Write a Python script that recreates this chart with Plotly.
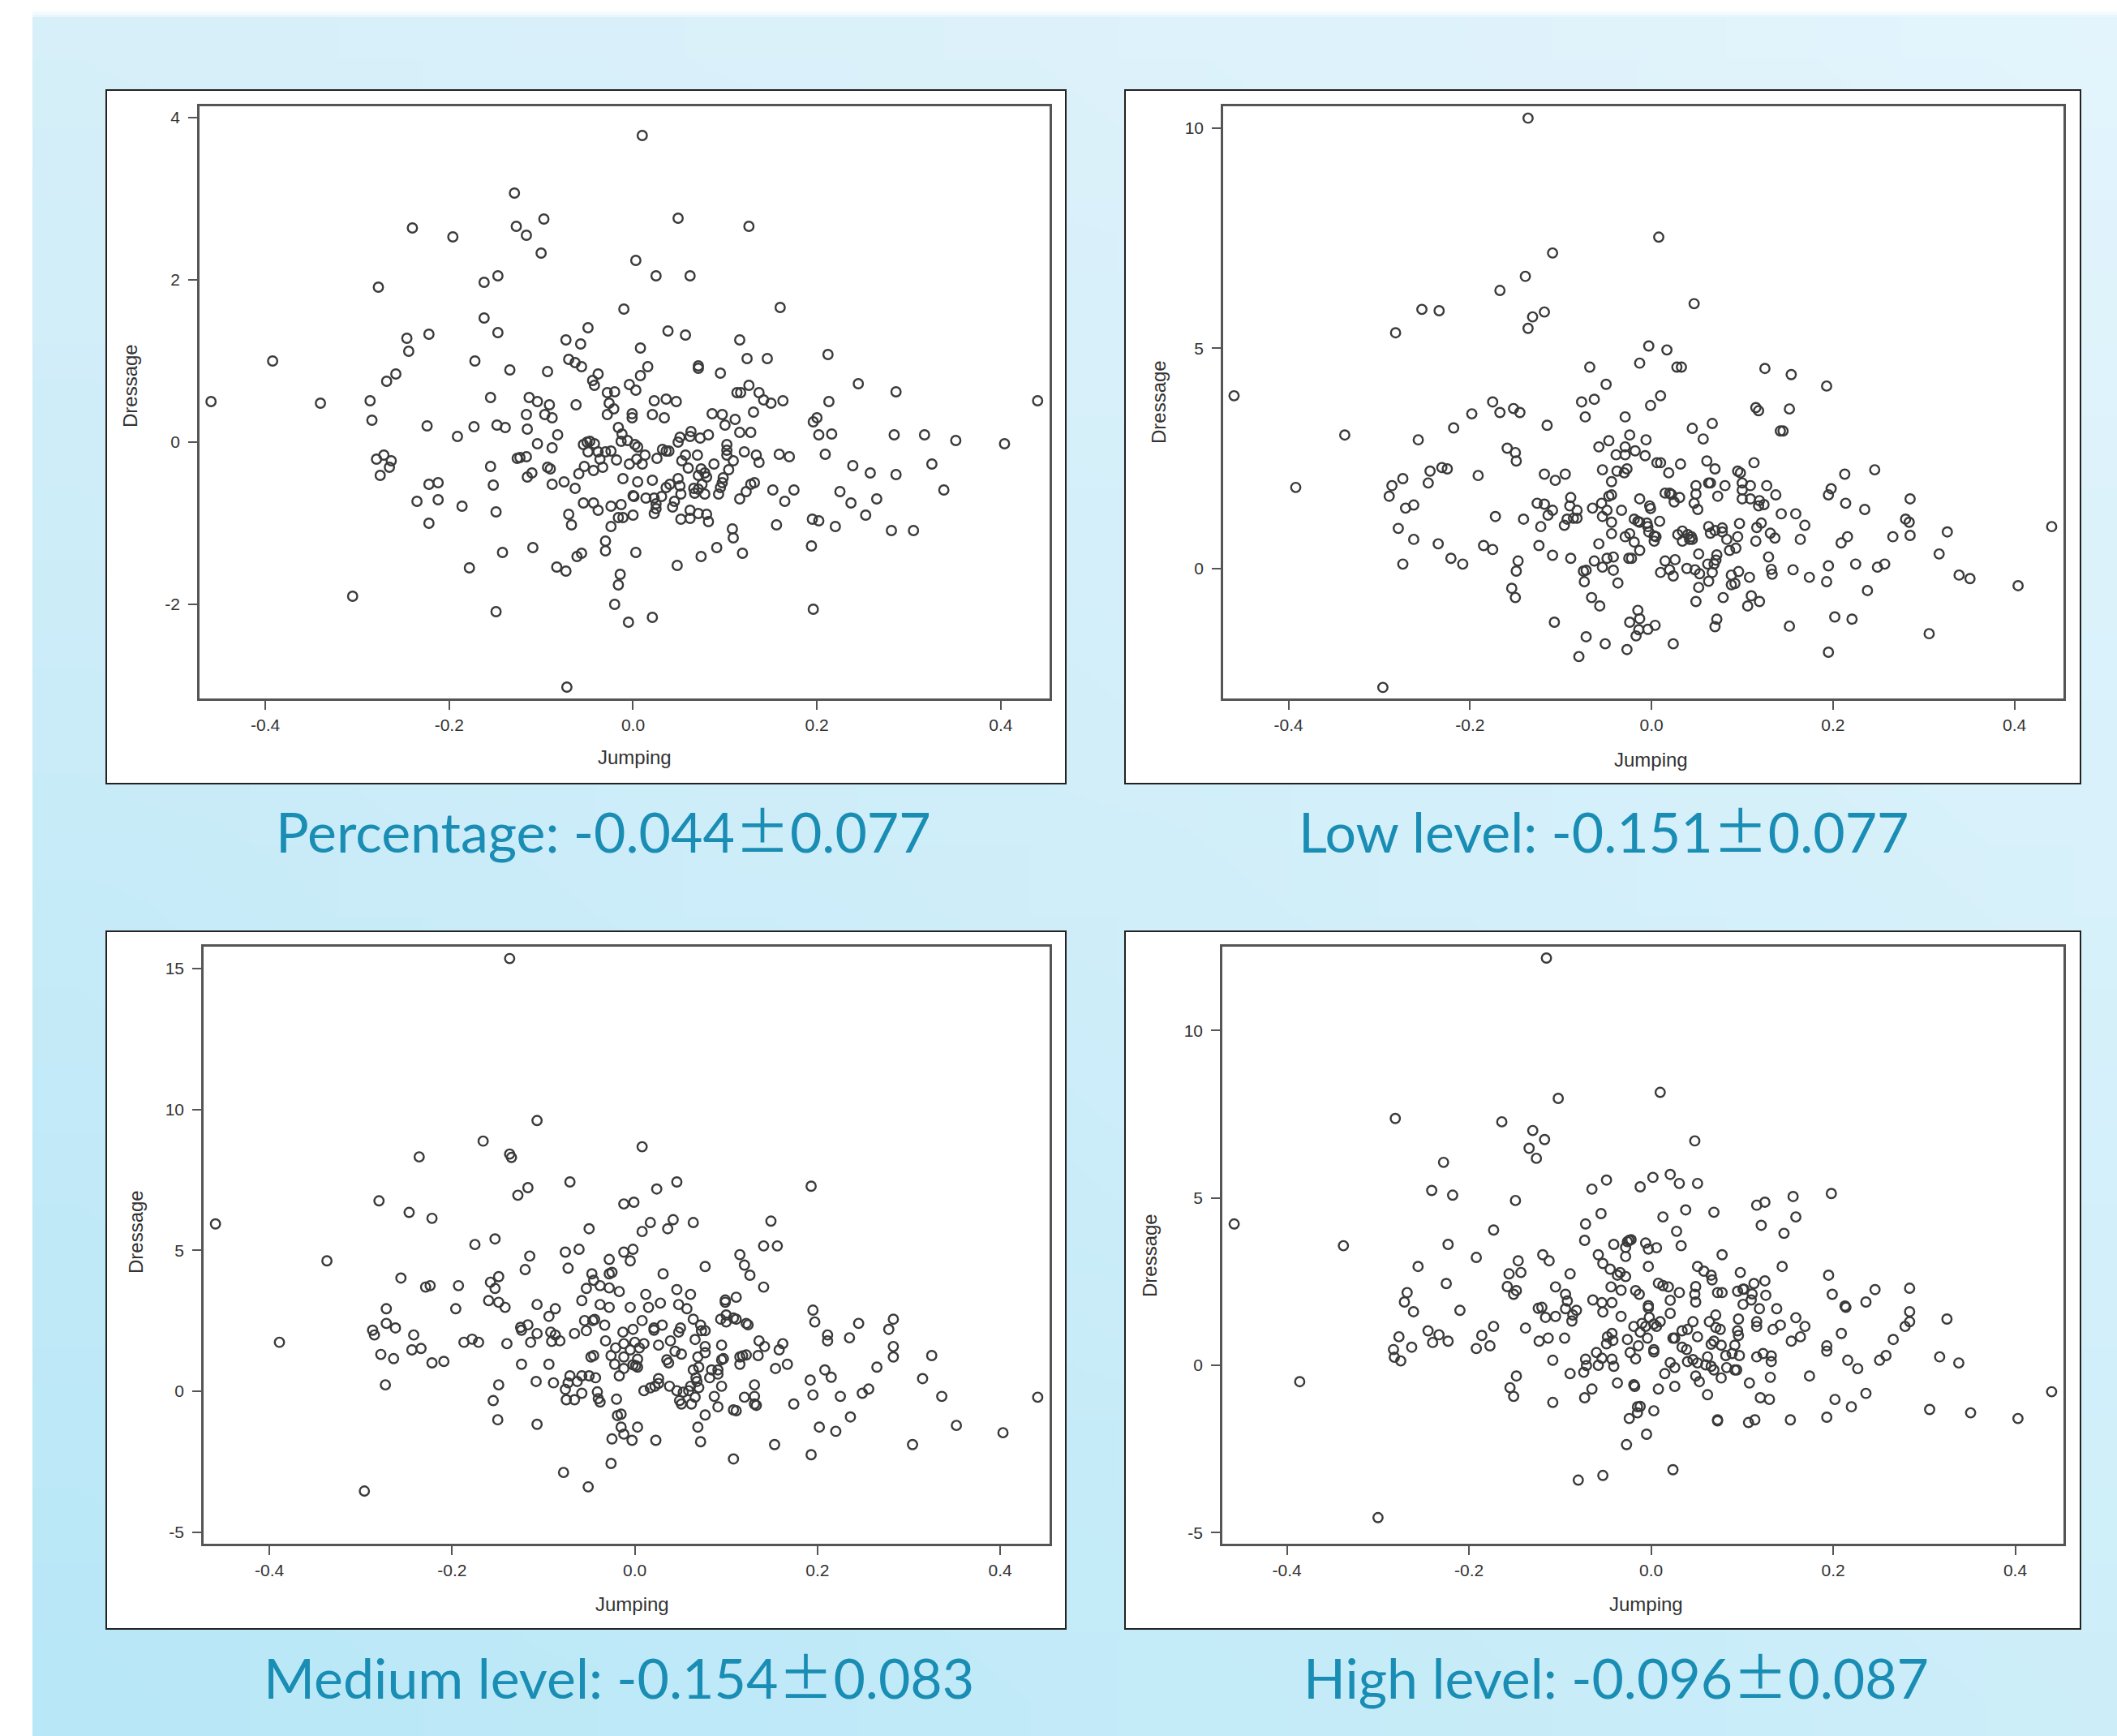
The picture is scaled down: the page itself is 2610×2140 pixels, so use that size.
import base64, struct, zlib
import plotly.graph_objects as go

W, H = 2610, 2140

x_ticks = [-0.4, -0.2, 0.0, 0.2, 0.4]
x_tick_labels = ["-0.4", "-0.2", "0.0", "0.2", "0.4"]

caption_names = ["Percentage", "Low level", "Medium level", "High level"]
caption_means = ["-0.044", "-0.151", "-0.154", "-0.096"]
caption_errors = ["0.077", "0.077", "0.083", "0.087"]
y_ticks_pct = [-2, 0, 2, 4]
y_ticks_low = [0, 5, 10]
y_ticks_med = [-5, 0, 5, 10, 15]
y_ticks_high = [-5, 0, 5, 10]

# (Jumping, Dressage)
percentage = [(-0.459,0.50),(-0.392,1.00),(-0.340,0.48),(-0.305,-1.90),(-0.286,0.51),(-0.284,0.27),(-0.277,1.91),(-0.279,-0.21),(-0.271,-0.16),(-0.263,-0.23),(-0.265,-0.31),(-0.275,-0.41),(-0.268,0.75),(-0.258,0.84),(-0.246,1.28),(-0.244,1.12),(-0.240,2.64),(-0.222,1.33),(-0.224,0.20),(-0.222,-0.52),(-0.212,-0.50),(-0.235,-0.73),(-0.212,-0.71),(-0.222,-1.00),(-0.196,2.53),(-0.191,0.07),(-0.186,-0.79),(-0.178,-1.55),(-0.173,0.19),(-0.172,1.00),(-0.162,1.97),(-0.162,1.53),(-0.155,0.55),(-0.155,-0.30),(-0.152,-0.53),(-0.149,-0.86),(-0.149,-2.09),(-0.147,2.05),(-0.147,1.35),(-0.148,0.21),(-0.139,0.18),(-0.142,-1.36),(-0.134,0.89),(-0.129,3.07),(-0.127,2.66),(-0.116,2.55),(-0.126,-0.20),(-0.123,-0.19),(-0.116,-0.18),(-0.115,-0.43),(-0.110,-0.38),(-0.113,0.55),(-0.104,0.50),(-0.116,0.34),(-0.115,0.16),(-0.104,-0.02),(-0.109,-1.30),(-0.097,2.75),(-0.100,2.33),(-0.093,0.87),(-0.091,0.46),(-0.096,0.34),(-0.088,0.30),(-0.082,0.09),(-0.088,-0.07),(-0.093,-0.31),(-0.090,-0.33),(-0.088,-0.52),(-0.075,-0.49),(-0.083,-1.54),(-0.073,-1.59),(-0.073,1.26),(-0.070,1.02),(-0.063,0.98),(-0.056,0.93),(-0.057,1.21),(-0.049,1.41),(-0.062,0.46),(-0.063,-0.57),(-0.070,-0.89),(-0.067,-1.02),(-0.072,-3.02),(-0.061,-1.41),(-0.056,-1.37),(-0.059,-0.39),(-0.054,-0.03),(-0.050,0.00),(-0.047,0.01),(-0.042,-0.02),(-0.049,-0.12),(-0.053,-0.30),(-0.054,-0.75),(-0.043,-0.75),(-0.038,-0.84),(-0.044,0.76),(-0.042,0.70),(-0.038,0.84),(-0.043,-0.35),(-0.038,-0.12),(-0.036,-0.21),(-0.033,-0.31),(-0.030,-0.12),(-0.024,-0.11),(-0.028,0.61),(-0.020,0.62),(-0.026,0.48),(-0.021,0.41),(-0.028,0.34),(-0.016,0.18),(-0.012,0.10),(-0.018,-0.22),(-0.013,0.01),(-0.006,0.02),(0.002,-0.03),(0.005,-0.06),(-0.004,-0.27),(0.004,-0.21),(0.010,-0.27),(0.013,-0.16),(-0.011,-0.45),(-0.024,-0.79),(-0.013,-0.77),(-0.016,-0.93),(-0.011,-0.93),(0.000,-0.90),(-0.024,-1.04),(-0.030,-1.22),(-0.030,-1.34),(-0.014,-1.63),(-0.016,-1.76),(-0.020,-2.00),(-0.005,-2.22),(0.021,-2.16),(0.003,-1.36),(0.000,-0.66),(0.001,-0.67),(0.005,-0.49),(-0.010,1.64),(0.010,3.78),(0.003,2.24),(0.025,2.05),(0.008,1.16),(-0.004,0.71),(0.003,0.64),(0.008,0.82),(0.016,0.93),(-0.001,0.35),(-0.001,0.30),(0.023,0.51),(0.021,0.34),(0.034,0.30),(0.036,0.53),(0.047,0.50),(0.049,2.76),(0.038,1.37),(0.057,1.32),(0.062,2.05),(0.126,2.66),(0.160,1.66),(0.116,1.26),(0.124,1.03),(0.146,1.03),(0.071,0.94),(0.071,0.91),(0.095,0.85),(0.126,0.70),(0.113,0.61),(0.117,0.61),(0.137,0.61),(0.142,0.52),(0.150,0.48),(0.163,0.51),(0.131,0.37),(0.086,0.35),(0.097,0.34),(0.100,0.21),(0.111,0.28),(0.116,0.12),(0.128,0.12),(0.063,0.13),(0.082,0.09),(0.073,0.05),(0.062,0.07),(0.051,0.06),(0.049,0.00),(0.032,-0.09),(0.036,-0.11),(0.039,-0.11),(0.026,-0.20),(0.057,-0.16),(0.070,-0.16),(0.053,-0.23),(0.060,-0.32),(0.074,-0.33),(0.088,-0.27),(0.102,-0.03),(0.102,-0.10),(0.102,-0.16),(0.109,-0.23),(0.104,-0.34),(0.078,-0.38),(0.071,-0.41),(0.080,-0.43),(0.098,-0.44),(0.097,-0.50),(0.049,-0.45),(0.040,-0.52),(0.036,-0.56),(0.051,-0.54),(0.021,-0.47),(0.075,-0.52),(0.066,-0.57),(0.071,-0.58),(0.067,-0.63),(0.078,-0.64),(0.093,-0.64),(0.095,-0.56),(0.052,-0.64),(0.014,-0.69),(0.023,-0.69),(0.031,-0.67),(0.045,-0.73),(0.043,-0.80),(0.025,-0.76),(0.025,-0.82),(0.023,-0.88),(0.062,-0.84),(0.071,-0.88),(0.080,-0.89),(0.052,-0.95),(0.062,-0.94),(0.082,-0.98),(0.116,-0.70),(0.123,-0.61),(0.128,-0.52),(0.132,-0.50),(0.121,-0.12),(0.134,-0.16),(0.137,-0.25),(0.159,-0.15),(0.170,-0.18),(0.152,-0.59),(0.165,-0.73),(0.175,-0.59),(0.156,-1.02),(0.108,-1.07),(0.109,-1.18),(0.091,-1.30),(0.074,-1.41),(0.119,-1.37),(0.048,-1.52),(0.196,0.25),(0.200,0.30),(0.202,0.09),(0.216,0.10),(0.209,-0.15),(0.212,1.08),(0.213,0.50),(0.245,0.72),(0.239,-0.29),(0.258,-0.38),(0.284,0.09),(0.286,0.62),(0.286,-0.40),(0.317,0.09),(0.351,0.02),(0.325,-0.27),(0.338,-0.59),(0.404,-0.02),(0.440,0.51),(0.225,-0.61),(0.237,-0.75),(0.265,-0.70),(0.253,-0.90),(0.195,-0.95),(0.202,-0.97),(0.220,-1.04),(0.281,-1.09),(0.305,-1.09),(0.194,-1.28),(0.196,-2.06)]

low_level = [(-0.460,3.92),(-0.392,1.84),(-0.338,3.03),(-0.296,-2.70),(-0.289,1.64),(-0.286,1.88),(-0.274,2.04),(-0.271,1.37),(-0.262,1.44),(-0.282,5.35),(-0.279,0.91),(-0.274,0.10),(-0.262,0.66),(-0.257,2.92),(-0.253,5.88),(-0.246,1.94),(-0.244,2.21),(-0.234,5.85),(-0.235,0.56),(-0.231,2.29),(-0.225,2.26),(-0.221,0.23),(-0.218,3.19),(-0.208,0.10),(-0.198,3.51),(-0.191,2.11),(-0.185,0.52),(-0.175,0.43),(-0.175,3.78),(-0.172,1.18),(-0.167,6.31),(-0.167,3.54),(-0.159,2.73),(-0.150,2.63),(-0.149,2.44),(-0.154,-0.45),(-0.150,-0.66),(-0.149,-0.06),(-0.147,0.17),(-0.152,3.63),(-0.145,3.54),(-0.141,1.12),(-0.139,6.63),(-0.136,10.22),(-0.136,5.45),(-0.131,5.71),(-0.118,5.82),(-0.118,2.14),(-0.115,3.25),(-0.126,1.48),(-0.118,1.46),(-0.122,0.95),(-0.124,0.52),(-0.114,1.21),(-0.109,1.32),(-0.106,2.00),(-0.109,7.16),(-0.109,0.30),(-0.107,-1.22),(-0.095,2.14),(-0.096,0.98),(-0.093,1.12),(-0.089,1.61),(-0.090,1.42),(-0.089,0.23),(-0.086,1.14),(-0.082,1.14),(-0.082,1.32),(-0.080,-2.00),(-0.077,3.78),(-0.073,3.44),(-0.068,4.57),(-0.075,-0.06),(-0.072,-0.04),(-0.074,-0.30),(-0.072,-1.55),(-0.066,-0.66),(-0.065,1.37),(-0.063,3.84),(-0.063,0.17),(-0.058,2.76),(-0.058,0.56),(-0.057,-0.85),(-0.055,1.48),(-0.054,1.18),(-0.054,2.24),(-0.054,0.03),(-0.051,-1.71),(-0.050,4.18),(-0.049,0.23),(-0.049,1.32),(-0.047,2.90),(-0.047,1.64),(-0.044,1.67),(-0.044,1.97),(-0.044,1.05),(-0.044,0.79),(-0.042,0.26),(-0.042,-0.04),(-0.037,-0.33),(-0.039,2.58),(-0.038,2.21),(-0.033,1.32),(-0.030,2.17),(-0.029,3.44),(-0.029,2.76),(-0.029,2.58),(-0.027,2.26),(-0.029,0.72),(-0.027,-1.84),(-0.025,0.23),(-0.022,0.23),(-0.024,3.03),(-0.024,0.79),(-0.024,-1.22),(-0.019,0.60),(-0.018,2.67),(-0.019,1.12),(-0.017,-1.53),(-0.015,1.07),(-0.013,1.05),(-0.015,-0.95),(-0.013,-1.14),(-0.014,-1.39),(-0.013,1.58),(-0.013,0.41),(-0.013,4.66),(-0.007,2.56),(-0.006,2.92),(-0.005,1.03),(-0.004,-1.38),(-0.004,0.95),(-0.002,1.42),(-0.001,1.36),(-0.003,5.05),(-0.001,3.70),(-0.003,0.83),(0.003,0.74),(0.005,0.72),(0.003,0.62),(0.004,-1.29),(0.008,7.52),(0.006,2.40),(0.010,2.40),(0.009,1.07),(0.010,3.92),(0.010,-0.09),(0.015,0.17),(0.017,4.96),(0.015,1.71),(0.020,1.71),(0.019,2.17),(0.022,1.68),(0.025,1.51),(0.031,1.61),(0.024,-1.71),(0.024,-0.17),(0.020,-0.03),(0.026,0.20),(0.028,4.57),(0.033,4.57),(0.032,2.37),(0.029,0.77),(0.034,0.85),(0.034,0.62),(0.040,0.77),(0.042,0.66),(0.045,0.66),(0.044,0.72),(0.039,0.00),(0.045,3.18),(0.047,6.01),(0.048,-0.03),(0.049,1.88),(0.049,1.69),(0.047,1.48),(0.051,1.34),(0.049,-0.75),(0.052,-0.43),(0.052,0.33),(0.053,-0.12),(0.057,2.94),(0.061,2.44),(0.063,1.94),(0.065,1.94),(0.063,0.95),(0.065,0.80),(0.062,0.10),(0.063,-0.29),(0.067,3.29),(0.067,-0.09),(0.070,2.26),(0.069,0.10),(0.072,0.31),(0.071,0.19),(0.073,1.64),(0.070,0.86),(0.072,-1.15),(0.070,-1.32),(0.078,0.92),(0.078,0.83),(0.079,-0.66),(0.081,1.88),(0.083,0.66),(0.088,-0.15),(0.086,0.41),(0.088,-0.37),(0.092,-0.34),(0.093,0.46),(0.095,2.21),(0.098,2.17),(0.095,0.72),(0.097,1.02),(0.096,-0.07),(0.100,1.94),(0.100,1.78),(0.100,1.58),(0.109,1.88),(0.109,1.58),(0.108,-0.20),(0.106,-0.85),(0.110,-0.62),(0.113,2.40),(0.115,3.65),(0.118,3.58),(0.115,0.62),(0.116,0.93),(0.119,1.54),(0.118,1.42),(0.124,1.45),(0.121,1.03),(0.119,-0.75),(0.125,4.54),(0.127,1.88),(0.129,0.26),(0.131,0.80),(0.136,0.69),(0.132,-0.02),(0.133,-0.13),(0.137,1.67),(0.142,3.12),(0.145,3.12),(0.143,1.24),(0.152,3.62),(0.154,4.40),(0.159,1.24),(0.156,-0.03),(0.152,-1.31),(0.164,0.66),(0.169,0.98),(0.174,-0.20),(0.193,4.14),(0.195,1.67),(0.198,1.81),(0.195,0.06),(0.193,-0.30),(0.195,-1.90),(0.202,-1.10),(0.221,-1.15),(0.209,0.58),(0.216,0.72),(0.213,2.14),(0.214,1.48),(0.225,0.10),(0.235,1.34),(0.238,-0.50),(0.246,2.24),(0.249,0.03),(0.257,0.10),(0.266,0.72),(0.280,1.12),(0.284,1.05),(0.285,1.58),(0.285,0.75),(0.306,-1.48),(0.317,0.33),(0.326,0.83),(0.339,-0.15),(0.351,-0.23),(0.404,-0.39),(0.441,0.95)]

medium_level = [(-0.459,5.94),(-0.389,1.74),(-0.337,4.63),(-0.296,-3.54),(-0.287,2.17),(-0.285,2.00),(-0.278,1.31),(-0.280,6.76),(-0.273,0.23),(-0.272,2.93),(-0.272,2.41),(-0.264,1.16),(-0.262,2.25),(-0.256,4.02),(-0.247,6.35),(-0.244,1.47),(-0.242,2.00),(-0.236,8.32),(-0.234,1.52),(-0.229,3.70),(-0.224,3.75),(-0.222,6.14),(-0.222,1.01),(-0.209,1.06),(-0.196,2.93),(-0.193,3.75),(-0.187,1.74),(-0.178,1.85),(-0.175,5.21),(-0.171,1.74),(-0.166,8.88),(-0.160,3.22),(-0.158,3.87),(-0.155,-0.33),(-0.153,3.65),(-0.153,5.41),(-0.149,3.16),(-0.149,4.07),(-0.149,0.23),(-0.150,-1.01),(-0.142,2.98),(-0.140,1.69),(-0.137,8.42),(-0.135,8.30),(-0.137,15.36),(-0.128,6.96),(-0.125,2.27),(-0.124,2.17),(-0.124,0.96),(-0.117,7.23),(-0.117,2.36),(-0.120,4.32),(-0.115,4.80),(-0.114,1.74),(-0.108,0.35),(-0.107,9.61),(-0.107,3.08),(-0.107,2.05),(-0.107,-1.17),(-0.094,0.96),(-0.094,2.66),(-0.092,2.10),(-0.091,1.77),(-0.087,2.93),(-0.087,2.00),(-0.089,0.30),(-0.082,1.79),(-0.078,-2.88),(-0.076,4.94),(-0.076,0.07),(-0.073,4.37),(-0.071,7.43),(-0.071,0.55),(-0.075,-0.30),(-0.073,0.30),(-0.066,2.05),(-0.066,-0.30),(-0.063,0.35),(-0.061,5.04),(-0.058,3.22),(-0.058,0.55),(-0.058,-0.07),(-0.055,2.51),(-0.053,2.15),(-0.053,3.65),(-0.051,-3.39),(-0.050,0.55),(-0.050,5.77),(-0.048,1.22),(-0.045,1.27),(-0.047,4.17),(-0.046,2.51),(-0.044,2.55),(-0.045,3.94),(-0.043,0.48),(-0.041,-0.02),(-0.040,-0.26),(-0.038,-0.38),(-0.038,3.08),(-0.038,3.75),(-0.033,2.35),(-0.032,1.79),(-0.028,4.68),(-0.028,4.17),(-0.025,4.22),(-0.028,3.67),(-0.028,2.98),(-0.026,1.27),(-0.025,-1.69),(-0.026,-2.56),(-0.022,0.96),(-0.021,1.54),(-0.020,-0.28),(-0.019,-0.86),(-0.015,-0.81),(-0.017,3.54),(-0.017,0.55),(-0.015,-1.27),(-0.013,2.10),(-0.012,6.65),(-0.012,4.94),(-0.012,1.69),(-0.012,1.22),(-0.012,0.81),(-0.012,-1.52),(-0.005,4.63),(-0.002,5.04),(-0.005,2.98),(-0.005,1.47),(-0.003,-1.74),(-0.002,2.20),(-0.002,0.94),(0.000,1.74),(-0.001,6.71),(0.003,1.14),(0.001,0.91),(0.003,0.86),(0.003,-1.27),(0.005,1.54),(0.008,8.68),(0.008,5.67),(0.008,2.51),(0.010,1.69),(0.010,0.02),(0.012,3.44),(0.015,2.98),(0.017,5.99),(0.017,0.12),(0.021,2.25),(0.021,2.17),(0.023,-1.74),(0.024,7.18),(0.026,1.64),(0.022,0.18),(0.026,0.28),(0.026,0.45),(0.028,3.13),(0.030,2.35),(0.031,4.17),(0.035,1.12),(0.036,5.77),(0.037,1.01),(0.038,0.18),(0.039,1.79),(0.042,6.09),(0.044,1.42),(0.046,7.43),(0.046,3.61),(0.048,3.08),(0.048,2.10),(0.050,2.25),(0.046,0.02),(0.049,-0.33),(0.051,-0.45),(0.051,1.32),(0.053,-0.03),(0.057,2.93),(0.061,3.44),(0.059,0.02),(0.061,0.18),(0.062,-0.45),(0.064,2.56),(0.064,5.99),(0.064,0.76),(0.066,1.84),(0.066,-0.21),(0.067,0.48),(0.068,0.35),(0.069,1.22),(0.070,0.13),(0.070,0.86),(0.069,-1.27),(0.072,2.35),(0.072,-1.79),(0.073,2.15),(0.077,2.15),(0.077,4.43),(0.077,1.59),(0.077,1.37),(0.077,-0.84),(0.082,0.48),(0.084,0.76),(0.087,-0.18),(0.091,0.76),(0.091,0.61),(0.091,-0.55),(0.094,2.56),(0.095,1.64),(0.095,1.12),(0.097,1.16),(0.095,0.18),(0.099,3.24),(0.099,3.16),(0.100,2.71),(0.100,2.46),(0.108,-0.66),(0.111,-0.69),(0.108,-2.40),(0.108,2.60),(0.111,2.56),(0.111,3.34),(0.115,4.85),(0.115,0.96),(0.115,1.22),(0.118,1.26),(0.120,4.48),(0.120,-0.21),(0.122,2.41),(0.124,2.36),(0.122,1.29),(0.126,4.12),(0.131,-0.18),(0.131,0.23),(0.131,-0.45),(0.133,-0.50),(0.135,1.27),(0.136,1.79),(0.141,5.16),(0.141,3.70),(0.142,1.59),(0.149,6.04),(0.153,-1.89),(0.154,0.81),(0.156,5.16),(0.158,1.47),(0.162,1.69),(0.167,0.96),(0.174,-0.45),(0.192,0.40),(0.193,7.28),(0.193,-2.25),(0.195,2.88),(0.195,-0.13),(0.197,2.46),(0.202,-1.27),(0.208,0.76),(0.211,2.00),(0.211,1.79),(0.215,0.50),(0.220,-1.42),(0.225,-0.18),(0.235,1.90),(0.236,-0.91),(0.245,2.41),(0.249,-0.07),(0.256,0.08),(0.265,0.86),(0.278,2.20),(0.283,2.56),(0.283,1.59),(0.283,1.22),(0.304,-1.89),(0.315,0.45),(0.325,1.27),(0.336,-0.18),(0.352,-1.21),(0.403,-1.47),(0.441,-0.21)]

high_level = [(-0.458,4.22),(-0.386,-0.49),(-0.338,3.57),(-0.300,-4.55),(-0.283,0.47),(-0.282,0.24),(-0.281,7.37),(-0.277,0.85),(-0.275,0.13),(-0.271,1.89),(-0.268,2.17),(-0.263,0.54),(-0.261,1.60),(-0.256,2.95),(-0.245,1.03),(-0.241,5.22),(-0.240,0.68),(-0.233,0.91),(-0.228,6.06),(-0.225,2.44),(-0.223,3.61),(-0.223,0.72),(-0.218,5.08),(-0.210,1.64),(-0.192,0.50),(-0.192,3.22),(-0.186,0.89),(-0.177,0.58),(-0.173,1.16),(-0.173,4.04),(-0.164,7.27),(-0.158,2.35),(-0.156,2.73),(-0.155,-0.67),(-0.151,-0.93),(-0.151,2.12),(-0.148,2.23),(-0.149,4.92),(-0.148,-0.32),(-0.146,3.12),(-0.143,2.77),(-0.138,1.11),(-0.134,6.48),(-0.130,7.01),(-0.126,6.18),(-0.124,1.70),(-0.120,1.73),(-0.123,0.72),(-0.119,3.30),(-0.117,6.74),(-0.115,12.16),(-0.116,1.43),(-0.113,0.81),(-0.112,3.12),(-0.108,0.15),(-0.108,-1.11),(-0.105,1.46),(-0.105,2.34),(-0.102,7.97),(-0.095,0.81),(-0.094,2.12),(-0.092,1.92),(-0.094,1.69),(-0.089,2.73),(-0.089,-0.25),(-0.087,1.32),(-0.086,1.50),(-0.082,1.64),(-0.080,-3.43),(-0.074,-0.21),(-0.073,-0.97),(-0.073,3.73),(-0.072,4.22),(-0.072,0.18),(-0.071,-0.01),(-0.065,5.26),(-0.065,-0.71),(-0.064,1.95),(-0.060,0.38),(-0.058,0.00),(-0.058,3.30),(-0.055,4.53),(-0.054,1.87),(-0.053,3.04),(-0.053,1.59),(-0.053,-3.29),(-0.054,0.21),(-0.049,5.53),(-0.049,0.64),(-0.048,0.85),(-0.045,2.87),(-0.044,2.34),(-0.043,1.87),(-0.043,0.95),(-0.043,0.18),(-0.041,-0.03),(-0.041,3.61),(-0.042,0.74),(-0.037,-0.53),(-0.037,2.69),(-0.034,2.77),(-0.033,2.24),(-0.033,1.46),(-0.028,2.65),(-0.028,3.25),(-0.028,3.52),(-0.026,3.69),(-0.024,3.73),(-0.022,3.75),(-0.027,-2.37),(-0.026,0.77),(-0.024,-1.59),(-0.023,0.38),(-0.019,1.16),(-0.019,-0.58),(-0.018,-0.63),(-0.017,0.19),(-0.017,2.23),(-0.013,2.12),(-0.015,-1.24),(-0.012,-1.23),(-0.015,-1.42),(-0.014,0.58),(-0.012,0.99),(-0.012,5.33),(-0.010,1.25),(-0.006,1.16),(-0.006,3.65),(-0.005,-2.06),(-0.004,0.81),(-0.003,3.47),(-0.003,2.95),(-0.003,1.78),(-0.003,1.71),(-0.002,1.43),(0.002,5.61),(0.003,-1.36),(0.003,0.47),(0.003,0.40),(0.003,1.23),(0.006,3.51),(0.006,1.16),(0.008,2.45),(0.008,-0.71),(0.010,8.15),(0.010,1.30),(0.013,4.43),(0.013,2.38),(0.015,-0.25),(0.019,2.34),(0.021,1.94),(0.021,1.55),(0.021,0.08),(0.021,5.70),(0.024,-3.12),(0.024,0.81),(0.026,0.81),(0.026,-0.07),(0.026,-0.63),(0.028,4.00),(0.031,2.17),(0.031,5.43),(0.033,3.57),(0.034,1.03),(0.034,0.54),(0.038,4.64),(0.039,0.47),(0.040,1.07),(0.040,0.11),(0.046,0.17),(0.046,1.30),(0.048,6.70),(0.048,2.12),(0.049,2.35),(0.049,1.89),(0.049,-0.32),(0.051,2.95),(0.051,5.43),(0.051,0.85),(0.051,0.07),(0.053,-0.49),(0.058,2.81),(0.060,0.01),(0.062,0.25),(0.062,-0.88),(0.064,1.30),(0.066,0.63),(0.066,2.69),(0.066,-0.03),(0.067,2.55),(0.069,-0.14),(0.069,4.57),(0.069,0.72),(0.071,1.50),(0.071,1.13),(0.073,-1.63),(0.073,-1.66),(0.073,2.17),(0.076,1.07),(0.078,2.17),(0.077,0.60),(0.077,-0.38),(0.078,3.30),(0.082,0.29),(0.083,-0.07),(0.089,0.35),(0.092,-0.14),(0.092,0.60),(0.094,-0.14),(0.095,2.21),(0.096,1.38),(0.095,1.03),(0.096,0.89),(0.097,0.29),(0.098,2.77),(0.101,2.27),(0.102,2.27),(0.101,1.82),(0.107,-1.71),(0.108,-0.53),(0.110,1.95),(0.111,2.13),(0.114,-1.63),(0.113,2.44),(0.116,1.30),(0.116,1.16),(0.116,4.78),(0.116,0.25),(0.119,1.69),(0.120,-0.97),(0.121,4.18),(0.123,0.35),(0.125,4.87),(0.125,2.52),(0.126,2.09),(0.130,-1.02),(0.131,-0.36),(0.132,0.28),(0.132,0.11),(0.134,1.07),(0.138,1.69),(0.142,1.20),(0.144,2.95),(0.146,3.94),(0.154,0.72),(0.153,-1.63),(0.156,5.04),(0.159,4.43),(0.159,1.42),(0.164,0.85),(0.169,1.16),(0.174,-0.32),(0.193,0.58),(0.193,0.42),(0.193,-1.55),(0.195,2.69),(0.198,5.13),(0.199,2.12),(0.202,-1.02),(0.209,0.95),(0.213,1.77),(0.214,1.73),(0.216,0.15),(0.220,-1.24),(0.227,-0.10),(0.236,-0.84),(0.236,1.89),(0.246,2.26),(0.251,0.15),(0.258,0.29),(0.266,0.77),(0.279,1.16),(0.284,1.30),(0.284,1.60),(0.284,2.30),(0.306,-1.32),(0.317,0.25),(0.325,1.38),(0.338,0.07),(0.351,-1.42),(0.403,-1.59),(0.440,-0.79)]

panels = [
    dict(pts=percentage, yt=y_ticks_pct, yr=[-3.16, 4.14], xr=[-0.4715, 0.453],
         outer=(131, 111, 1314, 966), inner=(246, 131, 1294, 861),
         xl=(782, 933), yl=(160, 476), cap=(744, 1022)),
    dict(pts=low_level, yt=y_ticks_low, yr=[-2.95, 10.49], xr=[-0.472, 0.454],
         outer=(1387, 111, 2565, 966), inner=(1508, 131, 2544, 861),
         xl=(2035, 936), yl=(1428, 496), cap=(1977, 1022)),
    dict(pts=medium_level, yt=y_ticks_med, yr=[-5.41, 15.78], xr=[-0.472, 0.454],
         outer=(131, 1148, 1314, 2008), inner=(251, 1167, 1294, 1903),
         xl=(779, 1977), yl=(167, 1519), cap=(763, 2064)),
    dict(pts=high_level, yt=y_ticks_high, yr=[-5.33, 12.5], xr=[-0.471, 0.453],
         outer=(1387, 1148, 2565, 2008), inner=(1507, 1167, 2544, 1903),
         xl=(2029, 1977), yl=(1417, 1548), cap=(1992, 2064)),
]


def px(v):
    return v / W


def py(v):
    return 1 - v / H


def gradient_png():
    n = 24
    tl, tr, bl, br = (214, 239, 249), (227, 244, 252), (184, 231, 247), (205, 238, 249)
    rows = b""
    for j in range(n):
        rows += b"\0"
        t = j / (n - 1)
        for i in range(n):
            s = i / (n - 1)
            rows += bytes(round((1-t)*((1-s)*a+s*b) + t*((1-s)*c+s*d)) for a, b, c, d in zip(tl, tr, bl, br))

    def chunk(tag, data):
        return struct.pack(">I", len(data)) + tag + data + struct.pack(">I", zlib.crc32(tag + data))
    png = b"\x89PNG\r\n\x1a\n" + chunk(b"IHDR", struct.pack(">IIBBBBB", n, n, 8, 2, 0, 0, 0)) + chunk(b"IDAT", zlib.compress(rows)) + chunk(b"IEND", b"")
    return "data:image/png;base64," + base64.b64encode(png).decode()


fig = go.Figure()
layout = dict(
    width=W, height=H, autosize=False, margin=dict(l=0, r=0, t=0, b=0),
    paper_bgcolor="white", plot_bgcolor="rgba(0,0,0,0)", showlegend=False,
    font=dict(family="Liberation Sans", color="#333333"),
    images=[dict(source=gradient_png(), xref="paper", yref="paper", x=px(40), y=py(21),
                 sizex=1 - px(40), sizey=py(21), sizing="stretch", layer="below",
                 xanchor="left", yanchor="top")],
    shapes=[], annotations=[],
)

# soft fade of the top edge of the blue background
for top, op in [(12, 0.12), (15, 0.3), (18, 0.6)]:
    layout["shapes"].append(dict(type="rect", xref="paper", yref="paper", layer="below",
                                 x0=px(40), x1=1, y0=py(top), y1=py(top + 3),
                                 fillcolor="#dbf1fa", opacity=op, line=dict(width=0)))

LBL = dict(xref="paper", yref="paper", xanchor="center", yanchor="middle", showarrow=False)
for k, p in enumerate(panels, start=1):
    xs = [a for a, _ in p["pts"]]
    ys = [b for _, b in p["pts"]]
    sfx = "" if k == 1 else str(k)
    fig.add_trace(go.Scatter(
        x=xs, y=ys, mode="markers", xaxis="x" + sfx, yaxis="y" + sfx, cliponaxis=False,
        marker=dict(symbol="circle-open", size=11.5, color="#3a3a3a", line=dict(width=2.4, color="#3a3a3a")),
    ))
    x0, y0, x1, y1 = p["inner"]
    axis = dict(showline=True, mirror=True, linecolor="#555555", linewidth=2.5, showgrid=False, zeroline=False,
                ticks="outside", ticklen=11, tickwidth=2, tickcolor="#555555",
                tickfont=dict(size=21, color="#333333", family="Liberation Sans"))
    layout["xaxis" + sfx] = dict(axis, domain=[px(x0), px(x1)], range=p["xr"], tickvals=x_ticks,
                                 ticktext=x_tick_labels, anchor="y" + sfx, ticklabelstandoff=1)
    layout["yaxis" + sfx] = dict(axis, domain=[py(y1), py(y0)], range=p["yr"], tickvals=p["yt"],
                                 ticktext=[str(v) for v in p["yt"]], anchor="x" + sfx, ticklabelstandoff=6)
    a0, b0, a1, b1 = p["outer"]
    layout["shapes"].append(dict(type="rect", xref="paper", yref="paper", layer="below",
                                 x0=px(a0), x1=px(a1), y0=py(b0), y1=py(b1),
                                 fillcolor="white", line=dict(color="#222222", width=2)))
    cap_text = (f"{caption_names[k - 1]}: {caption_means[k - 1]}"
                f"<span style=\"font-family:'Noto Sans CJK SC'\">±</span>{caption_errors[k - 1]}")
    layout["annotations"] += [
        dict(LBL, x=px(p["xl"][0]), y=py(p["xl"][1]), text="Jumping", font=dict(size=24, color="#333333")),
        dict(LBL, x=px(p["yl"][0]), y=py(p["yl"][1]), text="Dressage", textangle=-90, font=dict(size=24, color="#333333")),
        dict(LBL, x=px(p["cap"][0]), y=py(p["cap"][1]), text=cap_text,
             font=dict(size=68, color="#1a8db4", family="Lato")),
    ]

fig.update_layout(**layout)
fig.write_html("out.html", config=dict(displayModeBar=False),
               post_script="document.body.style.margin='0';document.body.style.overflow='hidden';")
